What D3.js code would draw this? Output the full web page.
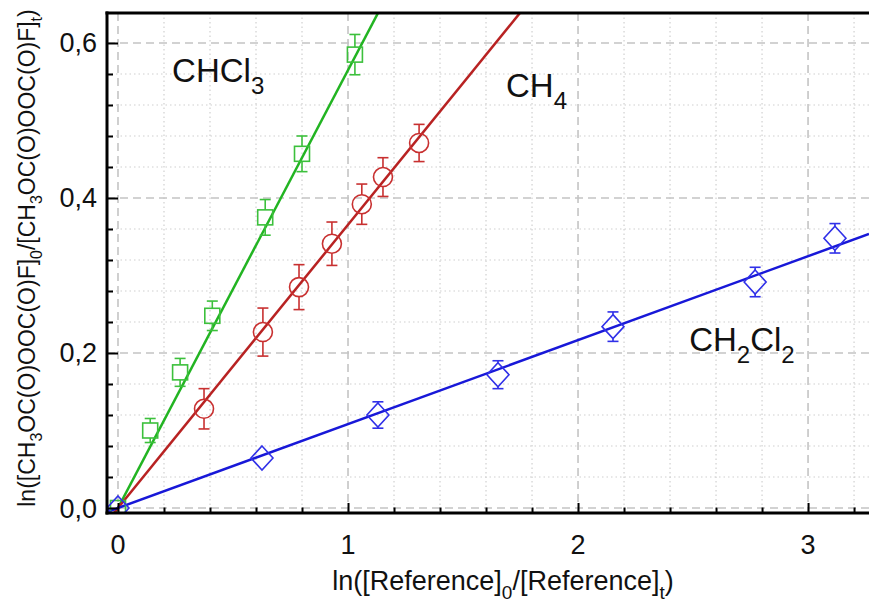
<!DOCTYPE html>
<html>
<head>
<meta charset="utf-8">
<script src="https://cdn.jsdelivr.net/npm/d3@7"></script>
<style>
  html, body { margin: 0; padding: 0; background: #fff; }
  svg { display: block; font-family: "Liberation Sans", Arial, sans-serif; }
</style>
</head>
<body>
<div id="chart"></div>
<script>
// values
const chcl3X = [0, 0.14, 0.27, 0.41, 0.64, 0.80, 1.03]
const chcl3Y = [0, 0.100, 0.175, 0.248, 0.375, 0.457, 0.585]
const chcl3Err = [0.005, 0.0155, 0.018, 0.019, 0.023, 0.023, 0.026]

const ch4X = [0.374, 0.63, 0.787, 0.93, 1.06, 1.152, 1.309]
const ch4Y = [0.128, 0.227, 0.285, 0.341, 0.392, 0.427, 0.471]
const ch4Err = [0.026, 0.031, 0.029, 0.028, 0.026, 0.025, 0.024]

const ch2cl2X = [0, 0.626, 1.13, 1.652, 2.152, 2.77, 3.117]
const ch2cl2Y = [0, 0.0645, 0.12, 0.172, 0.234, 0.2916, 0.348]
const ch2cl2Err = [0.005, 0.015, 0.017, 0.018, 0.019, 0.019, 0.019]

// slopes of the fitted lines (through the origin)
const fitSlopes = { chcl3: 0.565, ch4: 0.3655, ch2cl2: 0.1083 }

const xMajorTicks = [0, 1, 2, 3]
const xTickLabels = ["0", "1", "2", "3"]
const yMajorTicks = [0, 0.2, 0.4, 0.6]
const yTickLabels = ["0,0", "0,2", "0,4", "0,6"]

function drawChart() {
    const dimensions = {
        width: 869,
        height: 605,
        margin: { top: 13, right: 0, bottom: 92, left: 107 },
    }
    dimensions.boundedWidth = dimensions.width - dimensions.margin.left - dimensions.margin.right
    dimensions.boundedHeight = dimensions.height - dimensions.margin.top - dimensions.margin.bottom

    const svg = d3.select("#chart").append("svg")
        .attr("width", dimensions.width)
        .attr("height", dimensions.height)

    const bounds = svg.append("g")
        .attr("transform", `translate(${dimensions.margin.left},${dimensions.margin.top})`)

    const xScale = d3.scaleLinear()
        .domain([-0.0478, 3.265])
        .range([0, dimensions.boundedWidth])
    const yScale = d3.scaleLinear()
        .domain([-0.00645, 0.6387])
        .range([dimensions.boundedHeight, 0])

    bounds.append("clipPath").attr("id", "plot-clip")
        .append("rect")
        .attr("width", dimensions.boundedWidth)
        .attr("height", dimensions.boundedHeight)

    // grid
    const xMinor = d3.range(0, 3.3, 0.2).filter(v => Math.abs(v - Math.round(v)) > 1e-6)
    const yMinor = d3.range(0, 0.64, 0.04).filter(v => Math.abs(v / 0.2 - Math.round(v / 0.2)) > 1e-6)

    const grid = bounds.append("g").attr("clip-path", "url(#plot-clip)")
    grid.selectAll(".xminor").data(xMinor).join("line")
        .attr("x1", d => xScale(d)).attr("x2", d => xScale(d))
        .attr("y1", 0).attr("y2", dimensions.boundedHeight)
        .attr("stroke", "#d0d0d0").attr("stroke-width", 1.2).attr("stroke-dasharray", "1.5,3")
    grid.selectAll(".yminor").data(yMinor).join("line")
        .attr("y1", d => yScale(d)).attr("y2", d => yScale(d))
        .attr("x1", 0).attr("x2", dimensions.boundedWidth)
        .attr("stroke", "#d0d0d0").attr("stroke-width", 1.2).attr("stroke-dasharray", "1.5,3")
    grid.selectAll(".xmajor").data(xMajorTicks).join("line")
        .attr("x1", d => xScale(d)).attr("x2", d => xScale(d))
        .attr("y1", 0).attr("y2", dimensions.boundedHeight)
        .attr("stroke", "#c4c4c4").attr("stroke-width", 1.6).attr("stroke-dasharray", "8,5")
    grid.selectAll(".ymajor").data(yMajorTicks).join("line")
        .attr("y1", d => yScale(d)).attr("y2", d => yScale(d))
        .attr("x1", 0).attr("x2", dimensions.boundedWidth)
        .attr("stroke", "#c4c4c4").attr("stroke-width", 1.6).attr("stroke-dasharray", "8,5")

    // fitted lines
    const plot = bounds.append("g").attr("clip-path", "url(#plot-clip)")
    const series = [
        { name: "chcl3", xs: chcl3X, ys: chcl3Y, errs: chcl3Err, line: "#22b422", mark: "#3cc03c", shape: "square" },
        { name: "ch4", xs: ch4X, ys: ch4Y, errs: ch4Err, line: "#b82222", mark: "#c83030", shape: "circle" },
        { name: "ch2cl2", xs: ch2cl2X, ys: ch2cl2Y, errs: ch2cl2Err, line: "#1818d8", mark: "#3030e8", shape: "diamond" },
    ]

    const lineGen = d3.line().x(d => xScale(d[0])).y(d => yScale(d[1]))
    series.forEach(s => {
        const k = fitSlopes[s.name]
        const xs = xScale.domain()
        plot.append("path")
            .datum([[xs[0], k * xs[0]], [xs[1], k * xs[1]]])
            .attr("d", lineGen)
            .attr("fill", "none")
            .attr("stroke", s.line)
            .attr("stroke-width", 2.5)
    })

    // markers and error bars
    const half = { square: 7.5, circle: 9.5, diamond: 12 }
    series.forEach(s => {
        const pts = s.xs.map((x, i) => ({ x, y: s.ys[i], e: s.errs[i] }))
        const g = plot.append("g")
            .attr("stroke", s.mark)
            .attr("fill", "none")
            .attr("stroke-width", 1.6)
        const h = half[s.shape]
        pts.forEach(p => {
            const cx = xScale(p.x), cy = yScale(p.y)
            const top = yScale(p.y + p.e), bot = yScale(p.y - p.e)
            if (top < cy - h) {
                g.append("line").attr("x1", cx).attr("x2", cx).attr("y1", top).attr("y2", cy - h)
                g.append("line").attr("x1", cx - 5.5).attr("x2", cx + 5.5).attr("y1", top).attr("y2", top)
            }
            if (bot > cy + h) {
                g.append("line").attr("x1", cx).attr("x2", cx).attr("y1", bot).attr("y2", cy + h)
                g.append("line").attr("x1", cx - 5.5).attr("x2", cx + 5.5).attr("y1", bot).attr("y2", bot)
            }
        })
        if (s.shape === "square") {
            g.selectAll("rect").data(pts).join("rect")
                .attr("x", d => xScale(d.x) - h).attr("y", d => yScale(d.y) - h)
                .attr("width", 2 * h).attr("height", 2 * h)
        } else if (s.shape === "circle") {
            g.selectAll("circle").data(pts).join("circle")
                .attr("cx", d => xScale(d.x)).attr("cy", d => yScale(d.y)).attr("r", h)
        } else {
            g.selectAll("path").data(pts).join("path")
                .attr("d", d => {
                    const cx = xScale(d.x), cy = yScale(d.y)
                    return `M${cx},${cy - h}L${cx + 11},${cy}L${cx},${cy + h}L${cx - 11},${cy}Z`
                })
        }
    })

    // axes with inward ticks
    const xAxis = bounds.append("g")
        .attr("transform", `translate(0,${dimensions.boundedHeight})`)
        .call(d3.axisBottom(xScale).tickValues(xMinor).tickSize(-5.5).tickFormat(""))
    xAxis.append("g")
        .call(d3.axisBottom(xScale).tickValues(xMajorTicks).tickSize(-10).tickPadding(0).tickFormat(""))
    xAxis.selectAll(".domain").remove()
    xAxis.selectAll(".tick line").attr("stroke", "#000").attr("stroke-width", 2)

    const yAxis = bounds.append("g")
        .call(d3.axisLeft(yScale).tickValues(yMinor).tickSize(-6).tickFormat(""))
    yAxis.append("g")
        .call(d3.axisLeft(yScale).tickValues(yMajorTicks).tickSize(-11).tickFormat(""))
    yAxis.selectAll(".domain").remove()
    yAxis.selectAll(".tick line").attr("stroke", "#000").attr("stroke-width", 2)

    // frame: left, bottom, top
    bounds.append("line").attr("x1", 0).attr("x2", 0).attr("y1", -1.5).attr("y2", dimensions.boundedHeight + 1.5)
        .attr("stroke", "#000").attr("stroke-width", 3)
    bounds.append("line").attr("x1", -1.5).attr("x2", dimensions.boundedWidth).attr("y1", dimensions.boundedHeight).attr("y2", dimensions.boundedHeight)
        .attr("stroke", "#000").attr("stroke-width", 3)
    bounds.append("line").attr("x1", -1.5).attr("x2", dimensions.boundedWidth).attr("y1", 0).attr("y2", 0)
        .attr("stroke", "#000").attr("stroke-width", 3)

    // tick labels
    bounds.selectAll(".xlab").data(xMajorTicks).join("text")
        .attr("x", d => xScale(d))
        .attr("y", dimensions.boundedHeight + 41)
        .attr("text-anchor", "middle")
        .style("font-size", "27px")
        .attr("fill", "#111")
        .text((d, i) => xTickLabels[i])
    bounds.selectAll(".ylab").data(yMajorTicks).join("text")
        .attr("x", -10)
        .attr("y", d => yScale(d) + 9.5)
        .attr("text-anchor", "end")
        .style("font-size", "27px")
        .attr("fill", "#111")
        .text((d, i) => yTickLabels[i])

    // helper for text with subscripts: parts = [[text, isSub], ...]
    function richText(sel, parts, size, subSize, shift) {
        let down = false
        parts.forEach(([t, sub]) => {
            const ts = sel.append("tspan").text(t)
            if (sub && !down) { ts.attr("dy", shift).style("font-size", subSize + "px"); down = true }
            else if (sub) { ts.style("font-size", subSize + "px") }
            else if (down) { ts.attr("dy", -shift).style("font-size", size + "px"); down = false }
            else ts.style("font-size", size + "px")
        })
        return sel
    }

    // series labels
    const seriesLabels = [
        { x: 0.235, y: 0.55, parts: [["CHCl", false], ["3", true]] },
        { x: 1.687, y: 0.530, parts: [["CH", false], ["4", true]] },
        { x: 2.483, y: 0.2026, parts: [["CH", false], ["2", true], ["Cl", false], ["2", true]] },
    ]
    seriesLabels.forEach(l => {
        const t = bounds.append("text")
            .attr("x", xScale(l.x)).attr("y", yScale(l.y))
            .attr("fill", "#111")
        richText(t, l.parts, 33, 24, 12)
    })

    // axis titles
    const xt = svg.append("text")
        .attr("x", 503).attr("y", 590)
        .attr("text-anchor", "middle")
        .attr("fill", "#111")
    richText(xt, [["ln([Reference]", false], ["0", true], ["/[Reference]", false], ["t", true], [")", false]], 27, 19, 9)

    const yt = svg.append("text")
        .attr("transform", "translate(35,258) rotate(-90)")
        .attr("text-anchor", "middle")
        .attr("fill", "#111")
    richText(yt, [["ln([CH", false], ["3", true], ["OC(O)OOC(O)F]", false], ["0", true],
        ["/[CH", false], ["3", true], ["OC(O)OOC(O)F]", false], ["t", true], [")", false]], 23, 16, 7)
}

drawChart()
</script>
</body>
</html>
